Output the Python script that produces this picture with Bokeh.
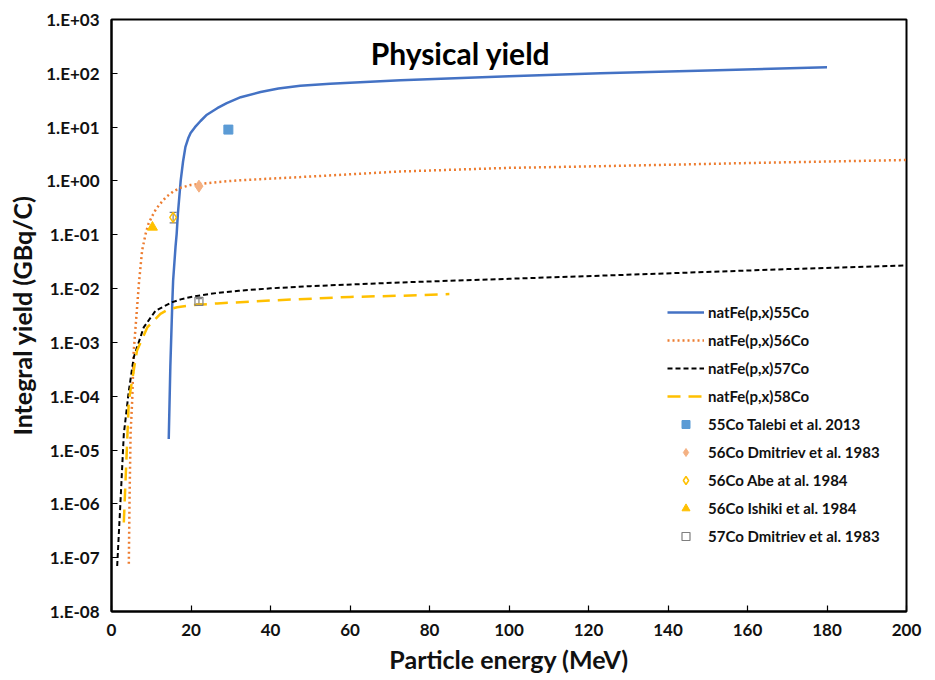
from bokeh.plotting import figure
from bokeh.models import FixedTicker, CustomJSTickFormatter, Label, Whisker, ColumnDataSource, TeeHead
from bokeh.embed import file_html
from bokeh.resources import INLINE

# ---- data ----
co55_E = [14.4, 14.8, 15.3, 15.5, 16.1, 16.4, 16.7, 17.4, 18.0, 18.6, 19.3, 19.9, 21.0, 22.4, 24.0, 26.6, 29.0, 32.5, 37.5, 42.0, 47.5, 55, 60, 72.7, 100, 123, 150, 180]
co55_Y = [1.6e-5, 3.5e-4, 5.6e-3, 0.014, 0.059, 0.105, 0.245, 1.0, 2.3, 4.3, 6.2, 7.8, 10, 13, 17, 22.5, 28, 36, 45, 52, 59, 64, 67, 74, 88, 100, 113, 130]

co56_E = [4.36, 4.53, 4.8, 5.2, 5.6, 6.9, 7.7, 8.6, 9.3, 10.2, 11.2, 12.3, 13.7, 15.7, 17.4, 19.9, 22.4, 26.6, 32, 37.5, 47.5, 72.7, 100, 123, 160, 200]
co56_Y = [7.7e-8, 1.1e-6, 2e-5, 8.3e-5, 7e-4, 0.0126, 0.051, 0.105, 0.16, 0.22, 0.3, 0.38, 0.5, 0.65, 0.75, 0.84, 0.88, 0.95, 1.03, 1.08, 1.18, 1.5, 1.75, 1.88, 2.15, 2.45]

co57_E = [1.43, 2.26, 3.1, 4.36, 5.6, 8.1, 11.1, 15.3, 17.4, 20, 22.4, 26.6, 32, 40, 50, 72.7, 100, 135.6, 170, 200]
co57_Y = [7e-8, 1.1e-6, 2e-5, 1.26e-4, 5.3e-4, 1.9e-3, 3.9e-3, 5.6e-3, 6.3e-3, 7.0e-3, 7.5e-3, 8.3e-3, 9.1e-3, 0.0101, 0.0111, 0.013, 0.0152, 0.0187, 0.023, 0.027]

co58_E = [3.1, 4.36, 6.4, 9.0, 12.3, 14.0, 16.5, 20, 26.6, 40, 60, 73.5, 85]
co58_Y = [4.5e-7, 8.3e-5, 7e-4, 1.9e-3, 3.4e-3, 4.0e-3, 4.5e-3, 4.9e-3, 5.3e-3, 6.0e-3, 7.0e-3, 7.4e-3, 7.9e-3]

talebi_E = [29.4]
talebi_Y = [9.0]
dmit56_E = [22.0]
dmit56_Y = [0.8]
abe_E = [15.5]
abe_Y = [0.21]
abe_lo = [0.166]
abe_hi = [0.26]
ishiki_E = [10.3]
ishiki_Y = [0.138]
dmit57_E = [22.0]
dmit57_Y = [5.8e-3]
dmit57_lo = [5.2e-3]
dmit57_hi = [6.5e-3]

x_ticks = [0, 20, 40, 60, 80, 100, 120, 140, 160, 180, 200]
y_ticks = [1e-8, 1e-7, 1e-6, 1e-5, 1e-4, 1e-3, 1e-2, 1e-1, 1e0, 1e1, 1e2, 1e3]

FONT = "Lato"

p = figure(width=935, height=680, y_axis_type="log", x_range=(0, 200), y_range=(1e-8, 1e3),
           output_backend="svg", toolbar_location=None,
           min_border_left=111, min_border_right=29, min_border_top=19, min_border_bottom=69)

p.xgrid.visible = False
p.ygrid.visible = False
p.outline_line_color = "black"
p.outline_line_width = 2
p.outline_line_alpha = 1

p.line(co55_E, co55_Y, line_color="#4472C4", line_width=2.5, legend_label="natFe(p,x)55Co")
p.line(co56_E, co56_Y, line_color="#ED7D31", line_width=2.5, line_dash="2 3", legend_label="natFe(p,x)56Co")
p.line(co57_E, co57_Y, line_color="black", line_width=2, line_dash="5 3", legend_label="natFe(p,x)57Co")
p.line(co58_E, co58_Y, line_color="#FFC000", line_width=2.5, line_dash="13 8", legend_label="natFe(p,x)58Co")

# error bars
p.add_layout(Whisker(source=ColumnDataSource(dict(x=abe_E, lo=abe_lo, hi=abe_hi)), base="x", lower="lo", upper="hi",
                     line_color="#7F7F7F", line_width=1.2,
                     upper_head=TeeHead(size=7, line_color="#7F7F7F", line_width=1.2),
                     lower_head=TeeHead(size=7, line_color="#7F7F7F", line_width=1.2)))
p.add_layout(Whisker(source=ColumnDataSource(dict(x=dmit57_E, lo=dmit57_lo, hi=dmit57_hi)), base="x", lower="lo", upper="hi",
                     line_color="#7F7F7F", line_width=1.2,
                     upper_head=TeeHead(size=6, line_color="#7F7F7F", line_width=1.2),
                     lower_head=TeeHead(size=6, line_color="#7F7F7F", line_width=1.2)))

p.scatter(talebi_E, talebi_Y, marker="square", size=9, fill_color="#5B9BD5", line_color="#5B9BD5",
          legend_label="55Co Talebi et al. 2013")
p.scatter(dmit56_E, dmit56_Y, marker="diamond", size=12, fill_color="#F4B183", line_color="#F4B183",
          legend_label="56Co Dmitriev et al. 1983")
p.scatter(abe_E, abe_Y, marker="diamond", size=10, fill_color="white", fill_alpha=0,
          line_color="#FFC000", line_width=1.5, legend_label="56Co Abe at al. 1984")
p.scatter(ishiki_E, ishiki_Y, marker="triangle", size=10, fill_color="#FFC000", line_color="#FFC000",
          legend_label="56Co Ishiki et al. 1984")
p.scatter(dmit57_E, dmit57_Y, marker="square", size=8, fill_alpha=0, line_color="#7F7F7F", line_width=1.2,
          legend_label="57Co Dmitriev et al. 1983")

# axes
for ax in (p.xaxis[0], p.yaxis[0]):
    ax.axis_line_color = "black"
    ax.axis_line_width = 2
    ax.major_tick_in = 6
    ax.major_tick_out = 0
    ax.major_tick_line_color = "black"
    ax.major_tick_line_width = 1.2
    ax.minor_tick_line_color = None
    ax.major_label_text_font = FONT
    ax.major_label_text_font_style = "bold"
    ax.major_label_text_font_size = "17px"
    ax.major_label_text_color = "#111111"
    ax.axis_label_text_font = FONT
    ax.axis_label_text_font_style = "bold"
    ax.axis_label_text_font_size = "25px"
    ax.axis_label_text_color = "#111111"

p.xaxis.ticker = FixedTicker(ticks=x_ticks)
p.yaxis.ticker = FixedTicker(ticks=y_ticks)
p.yaxis.formatter = CustomJSTickFormatter(code="""
const e = Math.round(Math.log10(tick));
return "1.E" + (e < 0 ? "-" : "+") + String(Math.abs(e)).padStart(2, "0");
""")
p.xaxis.axis_label = "Particle energy (MeV)"
p.yaxis.axis_label = "Integral yield (GBq/C)"
p.xaxis.major_label_standoff = 12
p.yaxis.major_label_standoff = 12
p.xaxis.axis_label_standoff = 5
p.yaxis.axis_label_standoff = 6

p.add_layout(Label(x=349, y=559, x_units="screen", y_units="screen", text="Physical yield",
                   text_font=FONT, text_font_style="bold", text_font_size="30px",
                   text_align="center", text_baseline="alphabetic", text_color="black"))

lg = p.legend[0]
lg.location = (546, 55)
lg.border_line_alpha = 0
lg.background_fill_alpha = 0
lg.label_text_font = FONT
lg.label_text_font_style = "bold"
lg.label_text_font_size = "15px"
lg.label_text_color = "#111111"
lg.glyph_width = 37
lg.glyph_height = 20
lg.label_height = 20
lg.spacing = 8
lg.padding = 10
lg.margin = 0
lg.label_standoff = 4

open("out.html", "w").write(file_html(p, INLINE))
